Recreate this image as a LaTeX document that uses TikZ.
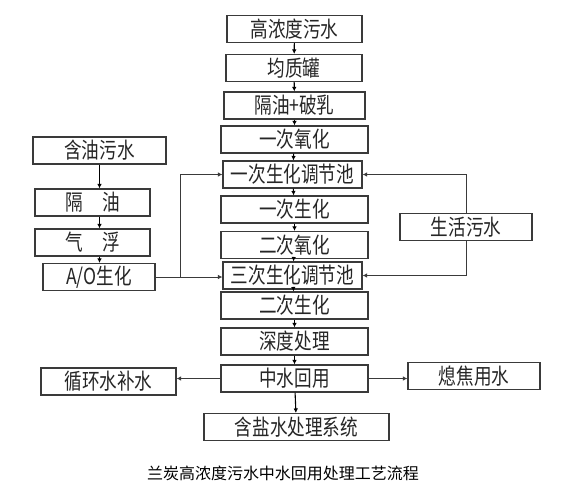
\documentclass[tikz,border=0pt]{standalone}
\usepackage{fontspec}
\newfontfamily\cjk[FakeStretch=0.8]{Noto Sans CJK SC}
\newfontfamily\cjkcap{Noto Sans CJK SC}
\usetikzlibrary{arrows.meta}
\definecolor{linegray}{HTML}{3A3A3A}
\tikzset{
  stage/.style={draw=linegray, line width=1.1pt, inner sep=0pt,
    minimum height=27pt, text=black!85,
    font=\cjk\fontsize{22}{22}\selectfont},
  flow/.style={-{Latex[length=4.5pt,width=4.5pt]}, line width=1.1pt, draw=black},
  feed/.style={-{Latex[length=4.5pt,width=4.5pt]}, line width=0.9pt, draw=linegray}
}
\begin{document}
\begin{tikzpicture}[x=1pt,y=-1pt]
  \useasboundingbox[fill=white] (0,0) rectangle (566,493);
  % main line
  \node[stage, minimum width=135pt] (raw)    at (294.5,29)  {高浓度污水};
  \node[stage, minimum width=136pt] (tank)   at (294,68)    {均质罐};
  \node[stage, minimum width=141pt] (demul)  at (294.5,105.5) {隔油+破乳};
  \node[stage, minimum width=147pt] (oxa)    at (294.5,139.5) {一次氧化};
  \node[stage, minimum width=139pt] (adja)   at (292.5,174.5) {一次生化调节池};
  \node[stage, minimum width=147pt] (bioa)   at (294.5,209.5) {一次生化};
  \node[stage, minimum width=147pt] (oxb)    at (294.5,245)   {二次氧化};
  \node[stage, minimum width=139pt] (adjc)   at (292.5,275.5) {三次生化调节池};
  \node[stage, minimum width=147pt] (biob)   at (294.5,305.5) {二次生化};
  \node[stage, minimum width=147pt] (deep)   at (294.5,341.5) {深度处理};
  \node[stage, minimum width=147pt] (reuse)  at (294.5,378.5) {中水回用};
  \node[stage, minimum width=185pt] (saline) at (296.5,427)   {含盐水处理系统};
  % oily branch
  \node[stage, minimum width=133pt] (oily)   at (99.5,150.5)  {含油污水};
  \node[stage, minimum width=115pt] (sep)    at (92.5,202.5)  {隔\hspace{0.9em}油};
  \node[stage, minimum width=115pt] (float)  at (92.5,242.5)  {气\hspace{0.9em}浮};
  \node[stage, minimum width=112pt] (ao)     at (99,277)      {A/O生化};
  % side streams
  \node[stage, minimum width=132pt] (domes)  at (466,227)     {生活污水};
  \node[stage, minimum width=135pt] (cool)   at (108.5,381.5) {循环水补水};
  \node[stage, minimum width=132pt] (quench) at (474,376)     {熄焦用水};
  % caption
  \node[font=\cjkcap\fontsize{16}{16}\selectfont] (title) at (283,473)
    {兰炭高浓度污水中水回用处理工艺流程};
  \draw[flow] (raw) -- (tank);
  \draw[flow] (tank) -- (demul);
  \draw[flow] (demul) -- (oxa);
  \draw[flow] (oxa) -- (adja);
  \draw[flow] (adja) -- (bioa);
  \draw[flow] (bioa) -- (oxb);
  \draw[flow] (oxb) -- (adjc);
  \draw[flow] (adjc) -- (biob);
  \draw[flow] (biob) -- (deep);
  \draw[flow] (deep) -- (reuse);
  \draw[flow] (reuse) -- (saline);
  \draw[flow] (oily.south) -- (oily.south |- sep.north);
  \draw[flow] (oily.south |- sep.south) -- (oily.south |- float.north);
  \draw[flow] (oily.south |- float.south) -- (oily.south |- ao.north);
  \coordinate (split) at (180,277);
  \draw[feed] (ao.east) -- (ao.east -| adjc.west);
  \draw[feed] (split) |- (adja.west);
  \draw[feed] (domes.north) |- (adja.east);
  \draw[feed] (domes.south) |- (adjc.east);
  \draw[feed] (reuse.west) -- (reuse.west -| cool.east);
  \draw[feed] (reuse.east) -- (reuse.east -| quench.west);
\end{tikzpicture}
\end{document}
